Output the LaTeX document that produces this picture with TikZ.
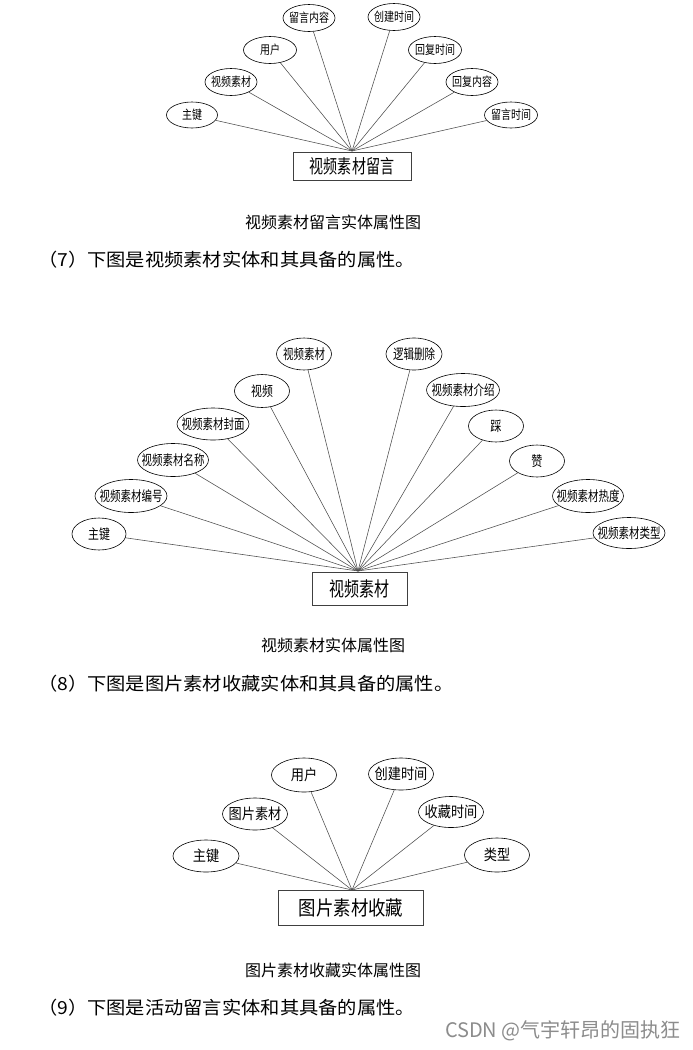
\documentclass[tikz,border=0pt]{standalone}
\usepackage{fontspec}
\setmainfont{Noto Sans CJK SC}
\usepackage{graphicx}
\usetikzlibrary{shapes.geometric}
\newcommand\sq[2]{\makebox[0pt]{\scalebox{#1}[1]{#2}}}
\newcommand\wide[1]{\scalebox{1.07}[1]{#1}}
\begin{document}
\begin{tikzpicture}[x=1pt,y=-1pt,
  attr/.style={ellipse,draw=black,line width=0.6pt,inner sep=0pt},
  ent/.style={rectangle,draw=black!75,line width=0.7pt,inner sep=0pt},
  conn/.style={draw=black!70,line width=0.55pt},
  fa/.style={font=\fontsize{12.5}{13}\selectfont},
  fb/.style={font=\fontsize{14}{15}\selectfont},
  fc/.style={font=\fontsize{15}{16}\selectfont},
  captext/.style={font=\fontsize{16}{17}\selectfont},
  para/.style={font=\fontsize{18}{19}\selectfont,anchor=west,inner sep=0pt}]
\useasboundingbox[fill=white] (0,0) rectangle (693,1050);

% ---------- diagram 1 ----------
\node[ent,minimum width=118pt,minimum height=28pt,font=\fontsize{19}{20}\selectfont] (e1) at (352,166) {\sq{0.74}{视频素材留言}};
\coordinate (h1) at (352,151);
\node[attr,fa,minimum width=51pt,minimum height=26pt] (a1) at (192,115) {\sq{0.8}{主键}};
\node[attr,fa,minimum width=52pt,minimum height=27pt] (a2) at (231,82) {\sq{0.8}{视频素材}};
\node[attr,fa,minimum width=53pt,minimum height=27pt] (a3) at (270,50) {\sq{0.8}{用户}};
\node[attr,fa,minimum width=52pt,minimum height=27pt] (a4) at (309,18) {\sq{0.8}{留言内容}};
\node[attr,fa,minimum width=52pt,minimum height=27pt] (a5) at (394,17) {\sq{0.8}{创建时间}};
\node[attr,fa,minimum width=53pt,minimum height=27pt] (a6) at (435,50) {\sq{0.8}{回复时间}};
\node[attr,fa,minimum width=52pt,minimum height=27pt] (a7) at (472,82) {\sq{0.8}{回复内容}};
\node[attr,fa,minimum width=53pt,minimum height=26pt] (a8) at (511,115) {\sq{0.8}{留言时间}};
\foreach \n in {a1,a2,a3,a4,a5,a6,a7,a8} \draw[conn] (\n) -- (h1);

\node[captext] (cap1) at (333,222) {视频素材留言实体属性图};
\node[para] (p7) at (38,260) {\wide{（7）下图是视频素材实体和其具备的属性。}};

% ---------- diagram 2 ----------
\node[ent,minimum width=95pt,minimum height=33pt,font=\fontsize{20}{21}\selectfont] (e2) at (359.5,588.5) {\sq{0.75}{视频素材}};
\coordinate (h2) at (358,571);
\node[attr,fb,minimum width=54pt,minimum height=32pt] (b1) at (99,534) {\sq{0.78}{主键}};
\node[attr,fb,minimum width=72pt,minimum height=33pt] (b2) at (131,496) {\sq{0.75}{视频素材编号}};
\node[attr,fb,minimum width=71pt,minimum height=33pt] (b3) at (173,460) {\sq{0.75}{视频素材名称}};
\node[attr,fb,minimum width=72pt,minimum height=32pt] (b4) at (213,424) {\sq{0.75}{视频素材封面}};
\node[attr,fb,minimum width=55pt,minimum height=33pt] (b5) at (262,391) {\sq{0.78}{视频}};
\node[attr,fb,minimum width=55pt,minimum height=32pt] (b6) at (304,354) {\sq{0.75}{视频素材}};
\node[attr,fb,minimum width=56pt,minimum height=32pt] (b7) at (414,354) {\sq{0.75}{逻辑删除}};
\node[attr,fb,minimum width=73pt,minimum height=33pt] (b8) at (463,390) {\sq{0.75}{视频素材介绍}};
\node[attr,fb,minimum width=55pt,minimum height=32pt] (b9) at (496,426) {\sq{0.8}{踩}};
\node[attr,fb,minimum width=55pt,minimum height=32pt] (b10) at (537,461) {\sq{0.8}{赞}};
\node[attr,fb,minimum width=71pt,minimum height=33pt] (b11) at (588,496) {\sq{0.75}{视频素材热度}};
\node[attr,fb,minimum width=72pt,minimum height=31pt] (b12) at (629,533) {\sq{0.75}{视频素材类型}};
\foreach \n in {b1,b2,b3,b4,b5,b6,b7,b8,b9,b10,b11,b12} \draw[conn] (\n) -- (h2);

\node[captext] (cap2) at (333,645) {视频素材实体属性图};
\node[para] (p8) at (38,684) {\wide{（8）下图是图片素材收藏实体和其具备的属性。}};

% ---------- diagram 3 ----------
\node[ent,minimum width=145pt,minimum height=35pt,font=\fontsize{20}{21}\selectfont] (e3) at (351,907.5) {\sq{0.87}{图片素材收藏}};
\coordinate (h3) at (352,890);
\node[attr,fc,minimum width=66pt,minimum height=32pt] (c1) at (206,856) {\sq{0.88}{主键}};
\node[attr,fc,minimum width=65pt,minimum height=32pt] (c2) at (255,814) {\sq{0.88}{图片素材}};
\node[attr,fc,minimum width=65pt,minimum height=34pt] (c3) at (304,775) {\sq{0.88}{用户}};
\node[attr,fc,minimum width=65pt,minimum height=32pt] (c4) at (401,774) {\sq{0.88}{创建时间}};
\node[attr,fc,minimum width=65pt,minimum height=31pt] (c5) at (451,812) {\sq{0.88}{收藏时间}};
\node[attr,fc,minimum width=65pt,minimum height=34pt] (c6) at (497,855) {\sq{0.88}{类型}};
\foreach \n in {c1,c2,c3,c4,c5,c6} \draw[conn] (\n) -- (h3);

\node[captext] (cap3) at (333,970) {图片素材收藏实体属性图};
\node[para] (p9) at (38,1008) {\wide{（9）下图是活动留言实体和其具备的属性。}};

\node[anchor=east,inner sep=0pt,text=black!45,font=\fontsize{20}{21}\selectfont] (wm) at (681,1031) {CSDN @气宇轩昂的固执狂};
\end{tikzpicture}
\end{document}
